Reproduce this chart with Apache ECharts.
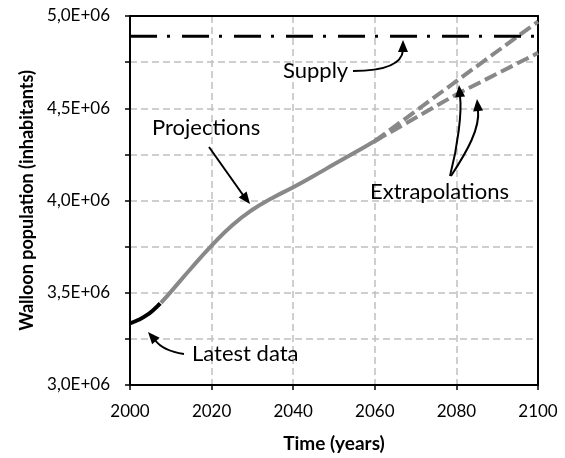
<!DOCTYPE html>
<html>
<head>
<meta charset="utf-8">
<script src="https://cdn.jsdelivr.net/npm/echarts@6/dist/echarts.min.js"></script>
<style>html,body{margin:0;padding:0;background:#fff}#c{width:565px;height:458px}</style>
</head>
<body>
<div id="c"></div>
<script>
// ---- data ----
var latestYears  = [2000, 2002, 2004, 2006, 2007.4];
var latestValues = [3334000, 3352000, 3377000, 3412000, 3442000];

var projYears  = [2007.6, 2010, 2015, 2020, 2025, 2030, 2035, 2040, 2045, 2050, 2055, 2060, 2061.5];
var projValues = [3445000, 3505000, 3633000, 3755000, 3865000, 3950000, 4015000, 4072000, 4133000, 4196000, 4259000, 4322000, 4341000];

var extrapYears   = [2060, 2080, 2100];
var extrapHigh    = [4322000, 4647000, 4970000];
var extrapLow     = [4322000, 4575000, 4800000];

var supplyYears  = [2000, 2100];
var supplyValues = [4890000, 4890000];

var xTicks = [2000, 2020, 2040, 2060, 2080, 2100];
var yLabels = ['3,0E+06', '3,5E+06', '4,0E+06', '4,5E+06', '5,0E+06'];

function pairs(xs, ys) { return xs.map(function (x, i) { return [x, ys[i]]; }); }

var FONT = 'Lato';
var chart = echarts.init(document.getElementById('c'), null, {renderer: 'canvas'});

function arrow(pts, head) {
  var els = [];
  var shape = pts.length === 4
    ? {type: 'line', shape: {x1: pts[0], y1: pts[1], x2: pts[2], y2: pts[3]}}
    : {type: 'bezierCurve', shape: {x1: pts[0], y1: pts[1], cpx1: pts[2], cpy1: pts[3], cpx2: pts[4], cpy2: pts[5], x2: pts[6], y2: pts[7]}};
  shape.style = {stroke: '#000', lineWidth: 2, fill: null};
  shape.z = 10;
  els.push(shape);
  var ex = pts[pts.length - 2], ey = pts[pts.length - 1];
  var dx = head[0] - ex, dy = head[1] - ey;
  var L = Math.sqrt(dx * dx + dy * dy) || 1;
  var ux = dx / L, uy = dy / L;
  var len = 12, w = 5;
  var bx = head[0] - ux * len, by = head[1] - uy * len;
  els.push({type: 'polygon', z: 10, shape: {points: [
    [head[0], head[1]],
    [bx - uy * w, by + ux * w],
    [bx + uy * w, by - ux * w]
  ]}, style: {fill: '#000'}});
  return els;
}

var graphics = [];
graphics = graphics.concat(arrow([209, 147, 243, 195], [250, 204]));
graphics = graphics.concat(arrow([353, 71, 386, 71, 402, 64, 403, 50], [403, 40]));
graphics = graphics.concat(arrow([450, 176, 458, 145, 462, 112, 460, 96], [459, 85]));
graphics = graphics.concat(arrow([451, 176, 468, 150, 480, 128, 478, 110], [477, 99]));
graphics = graphics.concat(arrow([184, 354, 171, 352, 160, 347, 155, 340], [148, 332]));

function label(text, x, y) {
  return {type: 'text', x: x, y: y, z: 10,
    style: {text: text, fill: '#000', font: '22px ' + FONT, align: 'left', verticalAlign: 'middle'}};
}
graphics.push(label('Supply', 283, 71));
graphics.push(label('Projections', 152, 128));
graphics.push(label('Extrapolations', 370, 192));
graphics.push(label('Latest data', 192, 354));

var frameAxis = {
  axisLine: {show: true, onZero: false, lineStyle: {color: '#000', width: 2}},
  axisTick: {show: false}, axisLabel: {show: false}, splitLine: {show: false}
};

chart.setOption({
  animation: false,
  backgroundColor: '#fff',
  grid: {left: 130, right: 27, top: 16, bottom: 71},
  xAxis: [{
    type: 'value', min: 2000, max: 2100, interval: 20,
    name: 'Time (years)', nameLocation: 'middle', nameGap: 49,
    nameTextStyle: {fontFamily: FONT, fontWeight: 'bold', fontSize: 19, color: '#000'},
    axisLine: {show: true, onZero: false, lineStyle: {color: '#000', width: 2}},
    axisTick: {show: true, inside: false, length: 5, lineStyle: {color: '#000', width: 1.5}},
    axisLabel: {margin: 18, fontFamily: FONT, fontSize: 17, color: '#000',
      formatter: function (v) { return xTicks.indexOf(v) >= 0 ? String(v) : ''; }},
    splitLine: {show: true, lineStyle: {color: '#c0c0c0', width: 1.5, type: [7, 4]}}
  }, Object.assign({type: 'value', position: 'top', min: 2000, max: 2100}, frameAxis)],
  yAxis: [{
    type: 'value', min: 3000000, max: 5000000, interval: 250000,
    name: 'Walloon population (inhabitants)', nameLocation: 'middle', nameGap: 94,
    nameTextStyle: {fontFamily: FONT, fontWeight: 'bold', fontSize: 18, color: '#000'},
    axisLine: {show: true, onZero: false, lineStyle: {color: '#000', width: 2}},
    axisTick: {show: true, inside: false, length: 5, lineStyle: {color: '#000', width: 1.5}},
    axisLabel: {margin: 20, fontFamily: FONT, fontSize: 17, color: '#000',
      formatter: function (v) {
        if (v % 500000 !== 0) return '';
        return yLabels[Math.round((v - 3000000) / 500000)];
      }},
    splitLine: {show: true, lineStyle: {color: '#c0c0c0', width: 1.5, type: [7, 4]}}
  }, Object.assign({type: 'value', position: 'right', min: 3000000, max: 5000000}, frameAxis)],
  series: [
    {name: 'Supply', type: 'line', data: pairs(supplyYears, supplyValues), symbol: 'none',
      lineStyle: {color: '#000', width: 3, type: [27, 10, 3, 12], cap: 'butt'}, z: 5},
    {name: 'Extrapolation high', type: 'line', data: pairs(extrapYears, extrapHigh), symbol: 'none',
      lineStyle: {color: '#888', width: 4, type: [13, 5], cap: 'butt'}, z: 3},
    {name: 'Extrapolation low', type: 'line', data: pairs(extrapYears, extrapLow), symbol: 'none',
      lineStyle: {color: '#888', width: 4, type: [13, 5], cap: 'butt'}, z: 3},
    {name: 'Projections', type: 'line', data: pairs(projYears, projValues), symbol: 'none', smooth: true,
      lineStyle: {color: '#888', width: 4}, z: 4},
    {name: 'Latest data', type: 'line', data: pairs(latestYears, latestValues), symbol: 'none', smooth: true,
      lineStyle: {color: '#000', width: 4}, z: 4}
  ],
  graphic: graphics
});
</script>
</body>
</html>
